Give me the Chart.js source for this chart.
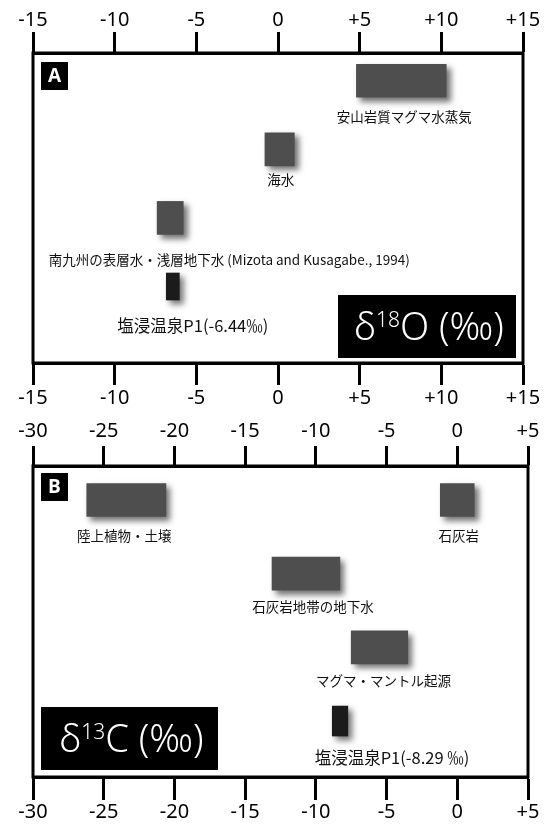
<!DOCTYPE html>
<html lang="ja">
<head>
<meta charset="utf-8">
<title>塩浸温泉P1 δ18O・δ13C</title>
<script src="https://cdn.jsdelivr.net/npm/chart.js@4.4.1/dist/chart.umd.min.js"></script>
<style>
  html, body { margin: 0; padding: 0; background: #fff; }
  #wrap { position: relative; width: 557px; height: 826px; overflow: hidden; }
  canvas { position: absolute; left: 0; }
  #cvO { top: 0; }
  #cvC { top: 412px; }
</style>
</head>
<body>
<div id="wrap">
  <canvas id="cvO" width="557" height="412"></canvas>
  <canvas id="cvC" width="557" height="414"></canvas>
</div>
<script>
// ---- δ18O (‰) ----
const sourcesO = ['安山岩質マグマ水蒸気', '海水', '南九州の表層水・浅層地下水 (Mizota and Kusagabe., 1994)'];
const rangesO = [[4.8, 10.3], [-0.8, 1.0], [-7.4, -5.8]];
const rowsO = [0, 1, 2];
const p1O = -6.44;
const ticksO = [-15, -10, -5, 0, 5, 10, 15];
const tickLabelsO = ['-15', '-10', '-5', '0', '+5', '+10', '+15'];

// ---- δ13C (‰) ----
const sourcesC = ['陸上植物・土壌', '石灰岩', '石灰岩地帯の地下水', 'マグマ・マントル起源'];
const rangesC = [[-26.2, -20.6], [-1.2, 1.2], [-13.1, -8.3], [-7.5, -3.5]];
const rowsC = [0, 0, 1, 2];
const p1C = -8.29;
const ticksC = [-30, -25, -20, -15, -10, -5, 0, 5];
const tickLabelsC = ['-30', '-25', '-20', '-15', '-10', '-5', '0', '+5'];

const P1_ROW = 3;
const TICK_FONT = { family: '"Noto Sans", "DejaVu Sans", sans-serif', size: 20 };
const JP_FONT = '"Noto Sans CJK JP", "Noto Sans", sans-serif';

// Drop shadow under the range blocks
const shadowPlugin = {
  id: 'blockShadow',
  beforeDatasetDraw(chart) {
    const c = chart.ctx;
    c.save();
    c.shadowColor = 'rgba(0,0,0,0.55)';
    c.shadowBlur = 6;
    c.shadowOffsetX = 4;
    c.shadowOffsetY = 4;
  },
  afterDatasetDraw(chart) { chart.ctx.restore(); }
};

// Frame, captions, panel letter and isotope badge
const decorPlugin = {
  id: 'panelDecor',
  afterDraw(chart, args, o) {
    const c = chart.ctx;
    const a = chart.chartArea;
    c.save();

    // captions under each block
    o.captions.forEach((cap) => {
      const el = chart.getDatasetMeta(cap.ds).data[cap.idx];
      const cx = (el.x + el.base) / 2 + cap.dx;
      const cy = el.y + el.height / 2 + cap.dy;
      c.font = cap.size + 'px ' + JP_FONT;
      c.fillStyle = '#111';
      c.textAlign = 'center';
      c.textBaseline = 'middle';
      c.fillText(cap.text, cx, cy);
    });

    // frame
    c.strokeStyle = '#000';
    c.lineWidth = 3;
    c.strokeRect(a.left, a.top, a.right - a.left, a.bottom - a.top);

    // panel letter
    const L = o.letter;
    c.fillStyle = '#000';
    c.fillRect(a.left + 8, a.top + L.dy, 27, 28);
    c.fillStyle = '#fff';
    c.font = 'bold 19px "Open Sans", "Noto Sans", sans-serif';
    c.textAlign = 'center';
    c.textBaseline = 'middle';
    c.fillText(L.text, a.left + 8 + 13.5, a.top + L.dy + 14.5);

    // isotope badge
    const B = o.badge;
    const bx = B.alignRight ? a.right - B.inset - B.w : a.left + B.inset;
    const by = a.bottom - B.bottomInset - B.h;
    c.fillStyle = '#000';
    c.fillRect(bx, by, B.w, B.h);
    drawDelta(c, bx + B.w / 2 + 2, by + B.h / 2, B.mass, B.rest);
    c.restore();
  }
};

function drawDelta(c, cx, cy, mass, rest) {
  const big = '300 38px "Noto Sans", sans-serif';
  const small = '300 21px "Noto Sans", sans-serif';
  c.font = big;
  const wD = c.measureText('δ').width;
  const wR = c.measureText(rest).width;
  c.font = small;
  const wS = c.measureText(mass).width;
  let x = cx - (wD + wS + wR) / 2;
  const base = cy + 13;
  c.fillStyle = '#fff';
  c.textAlign = 'left';
  c.textBaseline = 'alphabetic';
  c.font = big; c.fillText('δ', x, base); x += wD;
  c.font = small; c.fillText(mass, x, base - 13); x += wS;
  c.font = big; c.fillText(rest, x, base);
}

function xAxis(position, ticks, labels, height, tickLen, pad) {
  return {
    type: 'linear',
    position,
    min: ticks[0],
    max: ticks[ticks.length - 1],
    afterBuildTicks: (s) => { s.ticks = ticks.map((v) => ({ value: v })); },
    afterFit: (s) => { s.height = height; },
    border: { display: true, width: 3, color: '#000' },
    grid: { display: true, drawOnChartArea: false, drawTicks: true, tickLength: tickLen, tickWidth: 3, tickColor: '#000', offset: false },
    ticks: {
      padding: pad, color: '#000', font: TICK_FONT, maxRotation: 0, autoSkip: false,
      callback: (v, i) => labels[i]
    }
  };
}

function panel(canvasId, p) {
  return new Chart(document.getElementById(canvasId), {
    type: 'bar',
    data: {
      datasets: [
        {
          data: p.ranges.map((r, i) => ({ x: r, y: p.rows[i] })),
          backgroundColor: '#4e4e4e',
          barThickness: 33,
          grouped: false,
          xAxisID: 'x', yAxisID: 'y'
        },
        {
          data: [{ x: [p.p1 - p.p1Half, p.p1 + p.p1Half], y: P1_ROW }],
          backgroundColor: '#1b1b1b',
          barThickness: p.p1Thickness,
          grouped: false,
          xAxisID: 'x', yAxisID: 'y'
        }
      ]
    },
    options: {
      indexAxis: 'y',
      responsive: false,
      animation: false,
      devicePixelRatio: 1,
      layout: { padding: { left: 33, right: p.padRight, top: 0, bottom: 0 } },
      scales: {
        y: { type: 'linear', display: false, min: p.yMin, max: p.yMax, reverse: true, offset: false },
        x: xAxis('bottom', p.ticks, p.tickLabels, p.bottomH, p.bottomTick, p.bottomPad),
        x2: xAxis('top', p.ticks, p.tickLabels, p.topH, p.topTick, p.topPad)
      },
      plugins: {
        legend: { display: false },
        tooltip: { enabled: false },
        panelDecor: { captions: p.captions, letter: p.letter, badge: p.badge }
      }
    },
    plugins: [shadowPlugin, decorPlugin]
  });
}

// caption offsets (px) from block centre / block bottom
const capShiftO = [[3, 20], [1, 14], [59, 25]];
const capShiftC = [[-2, 19], [1.5, 19], [7, 16.6], [4, 16.7]];

panel('cvO', {
  ranges: rangesO, rows: rowsO, p1: p1O, p1Half: 0.4, p1Thickness: 27,
  ticks: ticksO, tickLabels: tickLabelsO,
  yMin: -0.404, yMax: 4.115, padRight: 34,
  topH: 53, topTick: 21, topPad: 0, bottomH: 49, bottomTick: 22, bottomPad: 1,
  captions: sourcesO.map((t, i) => ({ ds: 0, idx: i, text: t, size: 13.5, dx: capShiftO[i][0], dy: capShiftO[i][1] }))
    .concat([{ ds: 1, idx: 0, text: '塩浸温泉P1(' + p1O + '‰)', size: 16.5, dx: 20, dy: 26 }]),
  letter: { text: 'A', dy: 9 },
  badge: { alignRight: true, inset: 7, bottomInset: 5, w: 178, h: 63, mass: '18', rest: 'O (‰)' }
});

panel('cvC', {
  ranges: rangesC, rows: rowsC, p1: p1C, p1Half: 0.55, p1Thickness: 30,
  ticks: ticksC, tickLabels: tickLabelsC,
  yMin: -0.461, yMax: 3.759, padRight: 29,
  topH: 54, topTick: 20, topPad: 3, bottomH: 49, bottomTick: 23, bottomPad: 0,
  captions: sourcesC.map((t, i) => ({ ds: 0, idx: i, text: t, size: 13.5, dx: capShiftC[i][0], dy: capShiftC[i][1] }))
    .concat([{ ds: 1, idx: 0, text: '塩浸温泉P1(' + p1C + ' ‰)', size: 16.5, dx: 52, dy: 22 }]),
  letter: { text: 'B', dy: 7 },
  badge: { alignRight: false, inset: 8, bottomInset: 7, w: 177, h: 63, mass: '13', rest: 'C (‰)' }
});
</script>
</body>
</html>
